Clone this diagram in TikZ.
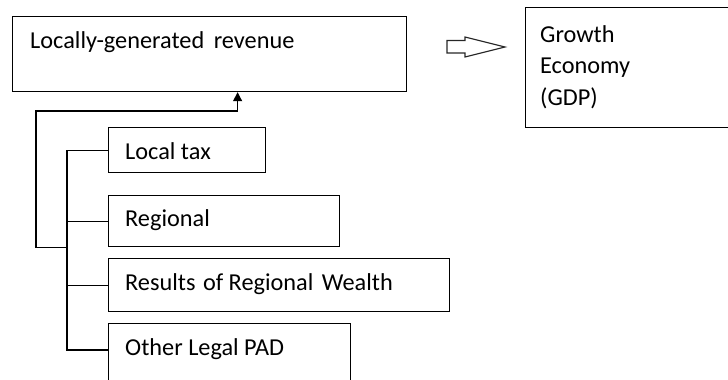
\documentclass[tikz,border=0pt]{standalone}
\usepackage{fontspec}
\setmainfont{Carlito}
\usetikzlibrary{arrows.meta}
\begin{document}
\begin{tikzpicture}[x=1pt,y=-1pt,
  box/.style={draw=black, line width=1.2pt, rectangle, inner sep=0pt, anchor=north west},
  txt/.style={anchor=base west, inner sep=0pt, font=\fontsize{24.3}{31.5}\selectfont, text=black},
  conn/.style={draw=black, line width=1.2pt}]
\useasboundingbox (0,0) rectangle (728,380);
\clip (0,0) rectangle (728,380);
% main box
\node[box, minimum width=394pt, minimum height=75pt] (lgr) at (12,16) {};
\node[txt] (lgrt) at (30,48) {Locally-generated\hspace{4pt} revenue};
% GDP box
\node[box, minimum width=240pt, minimum height=120pt] (gdp) at (525,7) {};
\node[txt, align=left, anchor=north west] (gdpt) at (540,25) {Growth\\Economy\\(GDP)};
% sub boxes
\node[box, minimum width=157pt, minimum height=45pt] (lt) at (108,127) {};
\node[txt] (ltt) at (125,159.5) {Local tax};
\node[box, minimum width=231pt, minimum height=51pt] (rg) at (108,195) {};
\node[txt] (rgt) at (125,226.5) {Regional};
\node[box, minimum width=341pt, minimum height=53pt] (rs) at (108,258) {};
\node[txt] (rst) at (125,290.5) {Results\hspace{2pt} of Regional\hspace{3pt} Wealth};
\node[box, minimum width=242pt, minimum height=80pt] (op) at (108,323) {};
\node[txt] (opt) at (125,355) {Other Legal PAD};
% connectors
\coordinate (sp) at (67,0);
\coordinate (fb) at (36,111);
\draw[conn] (lt.west) -| ([yshift=-27pt]op.north west -| sp) -- ([yshift=-27pt]op.north west);
\draw[conn] (rg.west) -- (rg.west -| sp);
\draw[conn] (rs.west) -- (rs.west -| sp);
\draw[conn, -{Triangle[length=9pt,width=9pt]}] (rg.south west -| sp) -| (fb) -| ([xshift=28pt]lgr.south);
% block arrow
\draw[line width=1.1pt, draw=black!85, line join=miter]
  (447,40.5) -- (465,40.5) -- (465,37) -- (505,47) -- (465,57) -- (465,53) -- (447,53) -- cycle;
\end{tikzpicture}
\end{document}
